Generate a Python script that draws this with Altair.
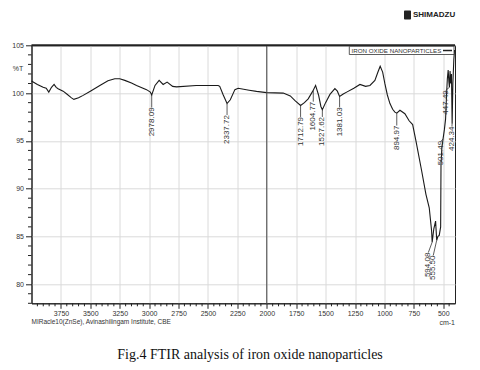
import altair as alt
import pandas as pd

# ---- spectrum (wavenumber cm-1, %T) ----
wavenumber = [4000, 3950, 3901, 3875, 3853, 3830, 3808, 3790, 3774, 3731, 3700, 3660, 3640,
              3600, 3561, 3500, 3419, 3350, 3292, 3250, 3207, 3150, 3107, 3022, 2990, 2978.09,
              2950, 2915, 2881, 2847, 2800, 2767, 2600, 2413, 2400, 2370, 2337.72, 2310, 2271,
              2243, 2150, 2087, 2002, 1860, 1800, 1760, 1712.79, 1680, 1648, 1614, 1604.77,
              1585, 1560, 1540, 1527.62, 1500, 1463, 1421, 1400, 1381.03, 1350, 1321, 1260,
              1208, 1160, 1123, 1081, 1055, 1036, 1015, 996, 975, 953, 930, 911, 894.97, 868,
              826, 790, 760, 732, 684, 647, 619, 599, 594.08, 580, 565, 555.5, 545, 534, 522,
              519, 512, 501.49, 490, 480, 472, 465, 458, 452, 447.49, 442, 436, 430, 424.34,
              418, 410, 404]
transmittance = [101.26, 100.9, 100.6, 100.5, 100.1, 100.6, 100.9, 100.6, 100.46, 100.2, 99.9,
                 99.5, 99.34, 99.5, 99.76, 100.2, 100.8, 101.3, 101.5, 101.5, 101.33, 101.05,
                 100.8, 100.36, 100.1, 99.8, 100.8, 101.33, 100.9, 101.15, 100.7, 100.65, 100.8,
                 100.8, 100.7, 99.8, 98.9, 99.3, 100.36, 100.5, 100.3, 100.18, 100.05, 100.0,
                 99.7, 99.2, 98.7, 99.0, 99.4, 100.1, 100.3, 100.8, 99.8, 98.6, 98.26, 99.0,
                 99.86, 100.46, 100.2, 99.65, 99.9, 100.1, 100.5, 100.9, 100.7, 100.8, 101.33,
                 102.2, 102.8, 102.2, 100.98, 99.8, 98.9, 98.3, 98.0, 97.9, 98.2, 97.84, 97.1,
                 96.7, 95.0, 91.9, 89.4, 88.0, 85.6, 84.4, 85.8, 86.6, 84.6, 85.0, 85.1, 86.0,
                 92.5, 94.2, 95.2, 96.2, 97.3, 99.8, 101.5, 102.4, 101.2, 100.6, 102.3, 101.0,
                 102.0, 96.8, 101.0, 103.5, 104.5]

# ---- peak annotations ----
peak_labels = ["2978.09", "2337.72", "1712.79", "1604.77", "1527.62", "1381.03", "894.97",
               "501.49", "447.49", "424.34", "594.08", "555.50"]
peak_wn = [2978.09, 2337.72, 1712.79, 1604.77, 1527.62, 1381.03, 894.97,
           501.49, 447.49, 424.34, 594.08, 555.5]
peak_T = [99.8, 98.9, 98.7, 100.3, 98.26, 99.65, 97.9, 95.2, 100.6, 96.8, 84.4, 84.6]
label_wn = [2978.09, 2337.72, 1712.79, 1604.77, 1527.62, 1381.03, 894.97,
            517, 478, 426, 627, 585]
label_T = [98.5, 97.7, 97.5, 99.1, 97.5, 98.5, 96.6, 95.0, 100.3, 96.5, 83.3, 83.0]

x_ticks = list(range(500, 4000, 250))
y_ticks = [80, 85, 90, 95, 100, 105]
x_minor = [v for v in range(450, 4000, 50) if v % 250 != 0]
y_minor = [v for v in range(78, 105) if v % 5 != 0]

NARROW = "'Liberation Sans Narrow', 'Liberation Sans', Arial, sans-serif"
SANS = "'Liberation Sans', Arial, sans-serif"
SERIF = "'Liberation Serif', 'Times New Roman', serif"
INK = "#222222"

W, H = 423.5, 258

spec = pd.DataFrame({"wn": wavenumber, "T": transmittance, "i": range(len(wavenumber))})
peaks = pd.DataFrame({"label": peak_labels, "wn": peak_wn, "T": peak_T,
                      "lwn": label_wn, "lT": label_T})
one = pd.DataFrame({"k": [0]})

x_scale = alt.Scale(domain=[400, 4000], reverse=True, nice=False, zero=False)
y_scale = alt.Scale(domain=[78, 105], nice=False, zero=False)

x_axis = alt.Axis(values=x_ticks, format="d", title=None, labelFont=NARROW, labelFontSize=7,
                  labelColor="#333", tickSize=5, tickColor=INK, domainColor=INK,
                  grid=True, gridColor="#dadada", labelPadding=1, labelFlush=False)
y_axis = alt.Axis(values=y_ticks, format="d", title=None, labelFont=NARROW, labelFontSize=7,
                  labelColor="#333", tickSize=6, tickColor=INK, domainColor=INK,
                  grid=True, gridColor="#dadada", labelPadding=2, labelFlush=False)


def X(field):
    return alt.X(field, scale=x_scale, axis=x_axis)


def Y(field):
    return alt.Y(field, scale=y_scale, axis=y_axis)


line = alt.Chart(spec).mark_line(color="#1a1a1a", strokeWidth=1.1).encode(
    x=X("wn:Q"), y=Y("T:Q"), order=alt.Order("i:Q"))

divider = alt.Chart(pd.DataFrame({"wn": [2000]})).mark_rule(color="#444", strokeWidth=1).encode(
    x=X("wn:Q"))

connectors = alt.Chart(peaks).mark_rule(color="#333", strokeWidth=0.8).encode(
    x=X("wn:Q"), x2="lwn:Q", y=Y("T:Q"), y2="lT:Q")

peak_text = alt.Chart(peaks).mark_text(angle=270, align="right", baseline="middle",
                                        font=SANS, fontSize=8, color="#333").encode(
    x=X("lwn:Q"), y=Y("lT:Q"), text="label:N")

xminor = alt.Chart(pd.DataFrame({"wn": x_minor})).mark_rule(color=INK, strokeWidth=1).encode(
    x=X("wn:Q"), y=alt.value(H), y2=alt.value(H + 3))
yminor = alt.Chart(pd.DataFrame({"T": y_minor})).mark_rule(color=INK, strokeWidth=1).encode(
    y=Y("T:Q"), x=alt.value(0), x2=alt.value(-3.5))

top_border = alt.Chart(one).mark_rule(color=INK, strokeWidth=2).encode(
    x=alt.value(0), x2=alt.value(W), y=alt.value(0))

legend_box = alt.Chart(one).mark_rect(fill="white", stroke="#333", strokeWidth=0.8).encode(
    x=alt.value(317.8), x2=alt.value(422.5), y=alt.value(1.0), y2=alt.value(9.2))
legend_text = alt.Chart(one).mark_text(align="left", baseline="middle", font=NARROW,
                                       fontSize=6.2, color="#333").encode(
    x=alt.value(320), y=alt.value(5.2), text=alt.value("IRON OXIDE NANOPARTICLES"))
legend_line = alt.Chart(one).mark_rule(color=INK, strokeWidth=1.5).encode(
    x=alt.value(411.5), x2=alt.value(420.5), y=alt.value(5.2))

pct = alt.Chart(one).mark_text(align="center", baseline="middle", font=NARROW,
                               fontSize=7, color="#333").encode(
    x=alt.value(-13.5), y=alt.value(23.7), text=alt.value("%T"))
instr = alt.Chart(one).mark_text(align="left", baseline="middle", font=NARROW,
                                 fontSize=6.5, color="#333").encode(
    x=alt.value(0), y=alt.value(277),
    text=alt.value("MIRacle10(ZnSe), Avinashilingam Institute, CBE"))
unit = alt.Chart(one).mark_text(align="right", baseline="middle", font=NARROW,
                                fontSize=7, color="#333").encode(
    x=alt.value(W), y=alt.value(277.5), text=alt.value("cm-1"))
caption = alt.Chart(one).mark_text(align="center", baseline="middle", font=SERIF,
                                   fontSize=14, color="#111").encode(
    x=alt.value(218.5), y=alt.value(309.7),
    text=alt.value("Fig.4 FTIR analysis of iron oxide nanoparticles"))
logo_icon = alt.Chart(one).mark_rect(fill="#222", cornerRadius=1).encode(
    x=alt.value(372.5), x2=alt.value(379.5), y=alt.value(-34.8), y2=alt.value(-25.8))
logo_text = alt.Chart(one).mark_text(align="left", baseline="middle", font=SANS,
                                     fontSize=8, fontWeight="bold", color="#222").encode(
    x=alt.value(381.5), y=alt.value(-30.3), text=alt.value("SHIMADZU"))

chart = alt.layer(
    line, divider, connectors, peak_text, xminor, yminor, top_border,
    legend_box, legend_text, legend_line, pct, instr, unit, caption, logo_icon, logo_text,
).properties(
    width=W, height=H,
    autosize=alt.AutoSizeParams(type="none"),
    padding={"left": 23.5, "top": 37.3, "right": 17, "bottom": 58.7},
    background="white",
).configure_view(stroke=INK, strokeWidth=1)

chart.save("out.html", embed_options={"renderer": "svg", "actions": False})
